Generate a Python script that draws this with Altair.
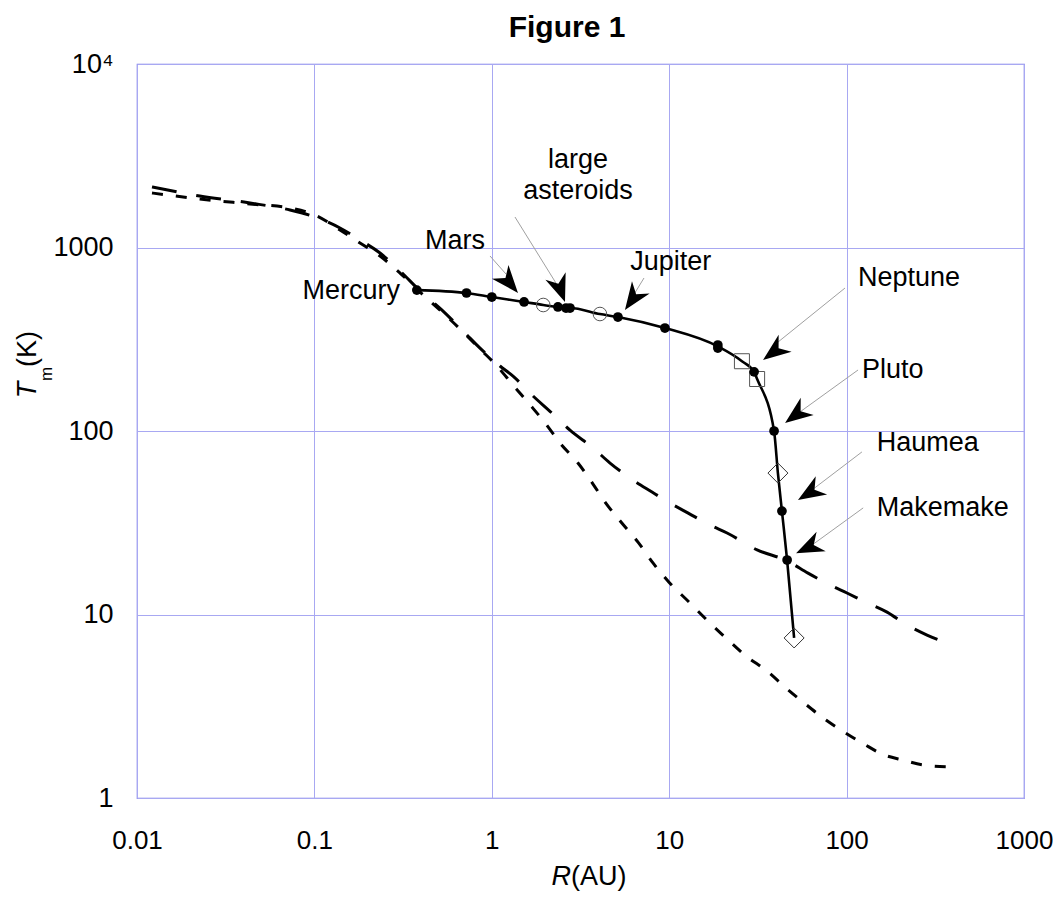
import altair as alt
import pandas as pd

FONT = "Liberation Sans"

# ---- solid model curve (R in AU, T in K) ----
line_R = [0.378, 0.72, 1.0, 1.52, 1.95, 2.36, 2.62, 2.76, 4.07, 5.14, 9.46, 18.8,
          25.7, 30.1, 31.3, 39.0, 41.0, 43.2, 46.2, 50.6]
line_T = [586, 565, 537, 505, 486, 474, 468, 468, 434, 418, 364, 289,
          240, 210, 192, 100, 59, 36.6, 19.8, 7.45]

# filled dots
dot_R = [0.378, 0.72, 1.0, 1.52, 2.36, 2.62, 2.76, 5.14, 9.46, 18.8, 18.8, 30.1, 39.0, 43.2, 46.2]
dot_T = [586, 565, 537, 505, 474, 468, 468, 418, 364, 294, 283, 210, 100, 36.6, 19.8]

# open circles, squares, diamonds
circ_R = [1.95, 4.07]
circ_T = [486, 434]
sq_R = [25.7, 31.3]
sq_T = [240, 192]
dia_R = [41.0, 50.6]
dia_T = [59, 7.45]

# ---- long-dashed curve ----
long_R = [0.01215, 0.0226, 0.0434, 0.0729, 0.1008, 0.1394, 0.1807, 0.2343, 0.3038, 0.3937,
          0.524, 0.706, 0.858, 1.112, 1.317, 1.685, 2.185, 2.759, 3.72, 4.64, 6.01, 8.0,
          10.1, 12.8, 17.0, 21.2, 31.3, 46.2, 60.6, 80.6, 100.5, 130, 169, 219, 284, 368]
long_T = [2138, 1908, 1748, 1601, 1466, 1277, 1099, 933, 745, 580,
          456, 342, 283, 226, 199, 157, 125, 101, 80.8, 66.9, 55.4, 46.5,
          40.5, 35.7, 30.7, 27.8, 22.5, 19.6, 16.8, 14.5, 13.1, 11.6, 10.3, 8.77, 7.73, 7.0]

# ---- short-dashed curve ----
short_R = [0.01215, 0.0226, 0.0434, 0.0729, 0.1008, 0.1394, 0.1807, 0.2343, 0.3038, 0.3937,
           0.524, 0.662, 0.858, 1.070, 1.317, 1.642, 2.021, 2.424, 3.06, 3.72, 4.35, 5.35,
           6.67, 8.1, 9.97, 12.8, 16.3, 21.5, 27.1, 35.6, 45.5, 57.5, 76.5, 96.7, 125, 162,
           208, 273, 373]
short_T = [1982, 1838, 1726, 1642, 1503, 1246, 1058, 899, 726, 572,
           445, 360, 280, 226, 178, 139, 109, 86, 66.9, 51.4, 41.0, 31.9,
           24.8, 19.1, 15.0, 11.8, 9.33, 7.26, 5.94, 4.92, 3.98, 3.30, 2.66, 2.29, 1.97, 1.72,
           1.61, 1.51, 1.48]

# ---- annotations ----
lab_text = ["Mercury", "Mars", "large", "asteroids", "Jupiter", "Neptune", "Pluto", "Haumea", "Makemake"]
lab_R = [0.304, 0.620, 3.06, 3.06, 10.2, 116, 122, 148, 148]
lab_T = [579, 1085, 2998, 2032, 834, 682, 215, 86, 38.1]
lab_align = ["right", "center", "center", "center", "center", "left", "left", "left", "left"]

arrow_R = [1.405, 2.586, 5.63, 33.8, 45.0, 53.2, 51.9]
arrow_T = [565, 505, 456, 244, 110.5, 42.1, 21.6]
arrow_angle = [50, 70, 125, 143, 143, 148, 155]

lead_R1 = [0.977, 1.351, 7.21, 97.9, 116, 122, 124]
lead_T1 = [899, 1466, 682, 601, 215, 76.9, 38.1]
lead_R2 = [1.202, 2.30, 6.25, 40.5, 54.6, 63.8, 63.8]
lead_T2 = [717, 640, 544, 302, 127, 47.7, 23.9]

x_ticks = [0.01, 0.1, 1, 10, 100, 1000]
y_ticks = [1, 10, 100, 1000, 10000]

W, H = 887, 734

xenc = alt.X("R:Q", scale=alt.Scale(type="log", domain=[0.01, 1000], nice=False),
             axis=alt.Axis(values=x_ticks, grid=True, gridColor="#a8a8f2", gridWidth=1,
                           domain=False, ticks=False, labelFont=FONT, labelFontSize=26,
                           labelColor="black", labelPadding=29, labelFlush=False,
                           labelExpr="'' + datum.value", title=None))
yenc = alt.Y("T:Q", scale=alt.Scale(type="log", domain=[1, 10000], nice=False),
             axis=alt.Axis(values=y_ticks, grid=True, gridColor="#a8a8f2", gridWidth=1,
                           domain=False, ticks=False, labelFont=FONT, labelFontSize=27,
                           labelColor="black", labelPadding=24, labelFlush=False,
                           labelExpr="datum.value == 10000 ? '10\u2074' : '' + datum.value",
                           title=None))

df_line = pd.DataFrame({"R": line_R, "T": line_T})
df_dot = pd.DataFrame({"R": dot_R, "T": dot_T})
df_circ = pd.DataFrame({"R": circ_R, "T": circ_T})
df_sq = pd.DataFrame({"R": sq_R, "T": sq_T})
df_dia = pd.DataFrame({"R": dia_R, "T": dia_T})
df_long = pd.DataFrame({"R": long_R, "T": long_T})
df_short = pd.DataFrame({"R": short_R, "T": short_T})
df_lab = pd.DataFrame({"R": lab_R, "T": lab_T, "text": lab_text, "al": lab_align})
df_arrow = pd.DataFrame({"R": arrow_R, "T": arrow_T, "angle": arrow_angle})
df_lead = pd.DataFrame({"R": lead_R1, "T": lead_T1, "R2": lead_R2, "T2": lead_T2})

short_line = alt.Chart(df_short).mark_line(color="black", strokeWidth=3, strokeDash=[11, 13],
                                            interpolate="monotone").encode(x=xenc, y=yenc, order="R:Q")
long_line = alt.Chart(df_long).mark_line(color="black", strokeWidth=3, strokeDash=[25, 20],
                                          interpolate="monotone").encode(x=xenc, y=yenc, order="R:Q")
solid = alt.Chart(df_line).mark_line(color="black", strokeWidth=2.6,
                                      interpolate="monotone").encode(x=xenc, y=yenc, order="R:Q")
dots = alt.Chart(df_dot).mark_point(shape="circle", filled=True, color="black", size=95,
                                     opacity=1).encode(x=xenc, y=yenc)
circs = alt.Chart(df_circ).mark_point(shape="circle", filled=False, color="#555555", size=185,
                                       strokeWidth=1, opacity=1).encode(x=xenc, y=yenc)
sqs = alt.Chart(df_sq).mark_point(shape="square", filled=False, color="#555555", size=225,
                                   strokeWidth=1, opacity=1).encode(x=xenc, y=yenc)
dias = alt.Chart(df_dia).mark_point(shape="diamond", filled=False, color="#333333", size=400,
                                     strokeWidth=1, opacity=1).encode(x=xenc, y=yenc)
leads = alt.Chart(df_lead).mark_rule(color="#a0a0a0", strokeWidth=1).encode(
    x=xenc, y=yenc, x2="R2:Q", y2="T2:Q")
arrows = alt.Chart(df_arrow).mark_point(
    shape="M0,0 L-2.7,-1.05 L-1.9,0 L-2.7,1.05 Z", filled=True, color="black", size=420, opacity=1,
    strokeWidth=0).encode(x=xenc, y=yenc, angle=alt.Angle("angle:Q", scale=None))

labels = []
for al in ["left", "center", "right"]:
    labels.append(
        alt.Chart(df_lab[df_lab["al"] == al]).mark_text(
            font=FONT, fontSize=27, color="black", align=al, baseline="middle").encode(
            x=xenc, y=yenc, text="text:N"))

one = pd.DataFrame({"k": [0]})


def ptext(txt, x, y, size, **kw):
    return alt.Chart(one).mark_text(text=txt, font=FONT, fontSize=size, color="black", **kw).encode(
        x=alt.value(x), y=alt.value(y))


title = ptext("Figure 1", 430, -27, 30, fontWeight="bold", align="center", baseline="alphabetic")
xt1 = ptext("R", 434, 821, 27, fontStyle="italic", align="right", baseline="alphabetic")
xt2 = ptext("(AU)", 434, 821, 27, align="left", baseline="alphabetic")
yt1 = ptext("T", -109, 326, 27, fontStyle="italic", align="center", baseline="middle", angle=270)
yt2 = ptext("m", -90, 310, 17, align="center", baseline="middle", angle=270)
yt3 = ptext("(K)", -109, 285, 27, align="center", baseline="middle", angle=270)

chart = alt.layer(
    short_line, long_line, solid, leads, circs, sqs, dias, dots, arrows, *labels,
    title, xt1, xt2, yt1, yt2, yt3
).properties(
    width=W, height=H,
    autosize=alt.AutoSizeParams(type="none"),
    padding={"left": 129, "top": 56, "right": 29, "bottom": 97},
    background="white",
).configure_view(stroke="#7a7ae6", strokeWidth=1.2)

chart.save("out.html", embed_options={"renderer": "svg", "actions": False})
